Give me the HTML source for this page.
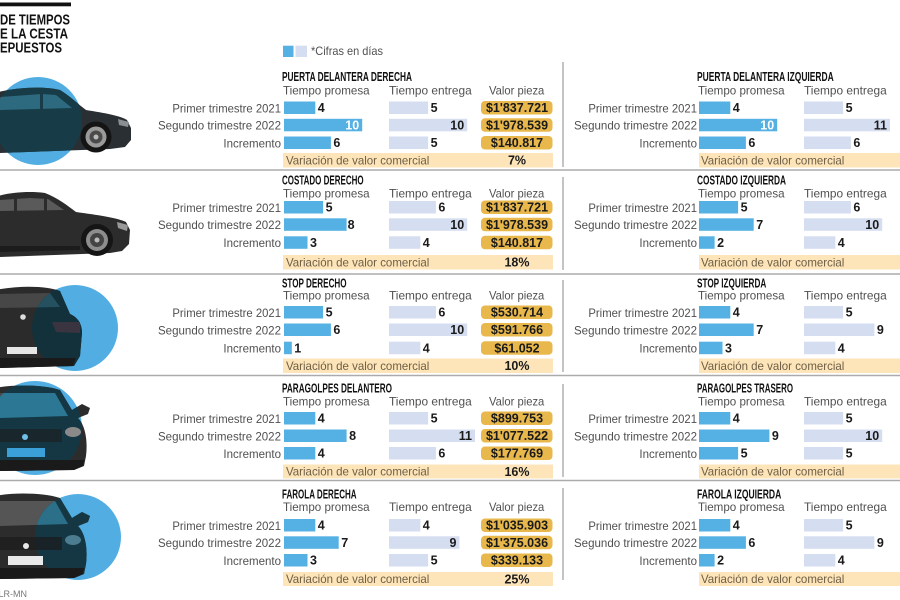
<!DOCTYPE html>
<html>
<head>
<meta charset="utf-8">
<style>
html,body{margin:0;padding:0;background:#fff;}
svg{display:block;}
text{font-family:"Liberation Sans",sans-serif;}
.lbl{font-size:12px;fill:#505050;}
.ttl{font-size:12.5px;font-weight:bold;fill:#111;}
.v{font-size:12.5px;font-weight:bold;fill:#1a1a1a;}
.vw{font-size:12.5px;font-weight:bold;fill:#fff;}
.pz{font-size:12.5px;font-weight:bold;fill:#1a1a1a;text-anchor:middle;}
.st{font-size:12px;fill:#6e5e45;}
.pb{fill:#55b0e3;}
.eb{fill:#d5ddf0;}
.gb{fill:#e8b84d;}
.sb{fill:#fde5b9;}
.end{text-anchor:end;}
</style>
</head>
<body>
<svg width="900" height="600" viewBox="0 0 900 600" xmlns="http://www.w3.org/2000/svg">
<defs>
  <clipPath id="c1" clipPathUnits="userSpaceOnUse"><circle cx="38" cy="121" r="44"/></clipPath>
  <clipPath id="c3" clipPathUnits="userSpaceOnUse"><circle cx="75" cy="328" r="43"/></clipPath>
  <clipPath id="c4" clipPathUnits="userSpaceOnUse"><circle cx="35" cy="428" r="47"/></clipPath>
  <clipPath id="c5" clipPathUnits="userSpaceOnUse"><circle cx="78" cy="429" r="43"/></clipPath>
</defs>
<rect width="900" height="600" fill="#fff"/>

<!-- Header -->
<rect x="0" y="2.5" width="71" height="3.8" fill="#111"/>
<text x="0" y="24.3" textLength="70" lengthAdjust="spacingAndGlyphs" style="font-size:15px;font-weight:bold;fill:#111">DE TIEMPOS</text>
<text x="0" y="38.5" textLength="68" lengthAdjust="spacingAndGlyphs" style="font-size:15px;font-weight:bold;fill:#111">E LA CESTA</text>
<text x="0" y="52.6" textLength="62" lengthAdjust="spacingAndGlyphs" style="font-size:15px;font-weight:bold;fill:#111">EPUESTOS</text>

<!-- Legend -->
<rect x="283" y="45.7" width="10.5" height="11.3" class="pb"/>
<rect x="295.5" y="45.7" width="11.5" height="11.3" class="eb"/>
<text x="311" y="55" class="lbl" textLength="72" lengthAdjust="spacingAndGlyphs">*Cifras en días</text>

<!-- Separators -->
<g stroke="#ababab" stroke-width="1.5">
  <line x1="0" y1="170" x2="900" y2="170"/>
  <line x1="0" y1="274" x2="900" y2="274"/>
  <line x1="0" y1="375.5" x2="900" y2="375.5"/>
  <line x1="0" y1="480.5" x2="900" y2="480.5"/>
</g>
<g stroke="#8a8a8a" stroke-width="1">
  <line x1="563" y1="62" x2="563" y2="167"/>
  <line x1="563" y1="177" x2="563" y2="270"/>
  <line x1="563" y1="280" x2="563" y2="372"/>
  <line x1="563" y1="384" x2="563" y2="477"/>
  <line x1="563" y1="488" x2="563" y2="580"/>
</g>

<!-- ============ CARS ============ -->
<circle cx="38" cy="121" r="44" fill="#52aee2"/>
<g>
  <path d="M -5,93 C 15,87 45,86 60,90 C 70,96 78,104 86,110 C 105,113 121,116 127,120 L 131,128 L 131,140 L 125,147 L 110,149 L 82,150 L 0,153 L -5,153 Z" fill="#2a2f33"/>
  <path d="M 0,97 L 42,94 L 56,95 L 72,108 L 0,110 Z" fill="#3e474e"/>
  <g clip-path="url(#c1)">
    <path d="M -5,93 C 15,87 45,86 60,90 C 70,96 78,104 86,110 C 105,113 121,116 127,120 L 131,128 L 131,140 L 125,147 L 110,149 L 82,150 L 0,153 L -5,153 Z" fill="#173c48"/>
    <path d="M 0,97 L 42,94 L 56,95 L 72,108 L 0,110 Z" fill="#2d6a80"/>
    <rect x="40" y="94" width="3" height="16" fill="#173c48"/>
  </g>
  <path d="M 118,119 L 129,122 L 128,127 L 119,125 Z" fill="#8a8f94"/>
  <circle cx="96" cy="137" r="15.5" fill="#141414"/>
  <circle cx="96" cy="137" r="10.5" fill="#9a9a9a"/>
  <circle cx="96" cy="137" r="6.5" fill="#4a4a4a"/>
  <circle cx="96" cy="137" r="2.5" fill="#bbb"/>
</g>

<g>
  <path d="M -5,197 C 10,192 30,191 45,193 C 58,198 68,206 76,212 C 98,215 118,218 126,222 L 130,230 L 129,244 L 122,251 L 110,253 L 82,254 L 0,257 L -5,257 Z" fill="#2c2c2c"/>
  <path d="M 0,200 L 30,198 L 48,199 L 64,210 L 0,211 Z" fill="#5a5a5a"/>
  <rect x="14" y="198" width="3" height="13" fill="#2c2c2c"/>
  <rect x="44" y="198" width="3" height="13" fill="#2c2c2c"/>
  <path d="M 117,222 L 128,225 L 127,231 L 118,228 Z" fill="#999"/>
  <path d="M 0,246 L 80,246 L 80,250 L 0,252 Z" fill="#1c1c1c"/>
  <circle cx="97" cy="240" r="16" fill="#151515"/>
  <circle cx="97" cy="240" r="11" fill="#8d8d8d"/>
  <circle cx="97" cy="240" r="7" fill="#444"/>
  <circle cx="97" cy="240" r="2.5" fill="#bbb"/>
</g>

<circle cx="75" cy="328" r="43" fill="#52aee2"/>
<g>
  <path d="M -5,290 C 20,285 48,286 60,291 L 70,314 C 79,318 82,325 82,333 L 80,356 L 74,366 L 0,368 L -5,368 Z" fill="#2b2b2b"/>
  <path d="M 0,294 L 50,293 L 60,307 L 0,308 Z" fill="#474747"/>
  <path d="M 52,322 L 80,322 L 80,333 L 56,332 Z" fill="#4a2a30"/>
  <g clip-path="url(#c3)">
    <path d="M -5,290 C 20,285 48,286 60,291 L 70,314 C 79,318 82,325 82,333 L 80,356 L 74,366 L 0,368 L -5,368 Z" fill="#13313b"/>
    <path d="M 0,294 L 50,293 L 60,307 L 0,308 Z" fill="#24505f"/>
    <path d="M 52,322 L 80,322 L 80,333 L 56,332 Z" fill="#3a3440"/>
  </g>
  <circle cx="23" cy="317" r="2.8" fill="#ddd"/>
  <rect x="7" y="347" width="30" height="7" fill="#e6e6e6"/>
  <path d="M 0,358 L 76,358 L 73,366 L 0,368 Z" fill="#1a1a1a"/>
</g>

<circle cx="35" cy="428" r="47" fill="#52aee2"/>
<g>
  <path d="M -5,388 C 15,384 45,385 60,390 L 72,410 L 82,404 L 90,408 L 88,414 L 78,418 C 85,425 88,440 86,456 L 84,466 L 74,470 L 0,471 L -5,471 Z" fill="#2c2c2c"/>
  <path d="M 0,393 L 55,393 L 68,416 L 0,418 Z" fill="#4a4a4a"/>
  <g clip-path="url(#c4)">
    <path d="M -5,388 C 15,384 45,385 60,390 L 72,410 L 82,404 L 90,408 L 88,414 L 78,418 C 85,425 88,440 86,456 L 84,466 L 74,470 L 0,471 L -5,471 Z" fill="#153744"/>
    <path d="M 0,393 L 55,393 L 68,416 L 0,418 Z" fill="#2c7894"/>
  </g>
  <rect x="0" y="429" width="62" height="13" fill="#1b1f22" opacity="0.7"/>
  <ellipse cx="73" cy="432" rx="8" ry="5" fill="#8a8a8a"/>
  <circle cx="25" cy="437" r="3" fill="#6fc0e8"/>
  <rect x="7" y="448" width="38" height="9" fill="#3ca0d8"/>
  <path d="M 0,460 L 84,460 L 83,466 L 74,470 L 0,471 Z" fill="#1a1a1a"/>
</g>

<circle cx="78" cy="537" r="43" fill="#52aee2"/>
<g transform="translate(0,108)">
  <path d="M -5,388 C 15,384 45,385 60,390 L 72,410 L 82,404 L 90,408 L 88,414 L 78,418 C 85,425 88,440 86,456 L 84,466 L 74,470 L 0,471 L -5,471 Z" fill="#2c2c2c"/>
  <path d="M 0,393 L 55,393 L 68,416 L 0,418 Z" fill="#555"/>
  <g clip-path="url(#c5)">
    <path d="M -5,388 C 15,384 45,385 60,390 L 72,410 L 82,404 L 90,408 L 88,414 L 78,418 C 85,425 88,440 86,456 L 84,466 L 74,470 L 0,471 L -5,471 Z" fill="#153744"/>
    <path d="M 0,393 L 55,393 L 68,416 L 0,418 Z" fill="#2c6f88"/>
  </g>
  <rect x="0" y="429" width="62" height="13" fill="#1b1b1b" opacity="0.7"/>
  <ellipse cx="73" cy="432" rx="8" ry="5" fill="#4c7c90"/>
  <circle cx="26" cy="438" r="3" fill="#e8e8e8"/>
  <rect x="8" y="448" width="35" height="9" fill="#eaeaea"/>
  <path d="M 0,460 L 84,460 L 83,466 L 74,470 L 0,471 Z" fill="#1a1a1a"/>
</g>

<text x="27" y="597" class="end" style="font-size:9px;fill:#777">Fuente: LR-MN</text>

<!-- ============ SECTION 1 ============ -->
<g>
  <text x="282" y="81" class="ttl" textLength="130" lengthAdjust="spacingAndGlyphs">PUERTA DELANTERA DERECHA</text>
  <text x="283" y="94.5" class="lbl" textLength="86.6" lengthAdjust="spacingAndGlyphs">Tiempo promesa</text>
  <text x="389" y="94.5" class="lbl" textLength="82.7" lengthAdjust="spacingAndGlyphs">Tiempo entrega</text>
  <text x="489" y="94.5" class="lbl" textLength="55.3" lengthAdjust="spacingAndGlyphs">Valor pieza</text>
  <text x="281" y="112.3" class="lbl end" textLength="108.6" lengthAdjust="spacingAndGlyphs">Primer trimestre 2021</text>
  <text x="281" y="129.6" class="lbl end" textLength="123" lengthAdjust="spacingAndGlyphs">Segundo trimestre 2022</text>
  <text x="281" y="147.3" class="lbl end" textLength="57.6" lengthAdjust="spacingAndGlyphs">Incremento</text>
  <rect x="284" y="101.5" width="31.3" height="12.5" class="pb"/><text x="317.8" y="112.1" class="v">4</text>
  <rect x="284" y="118.8" width="78.2" height="12.5" class="pb"/><text x="359.2" y="129.4" class="vw end">10</text>
  <rect x="284" y="136.5" width="46.9" height="12.5" class="pb"/><text x="333.4" y="147.1" class="v">6</text>
  <rect x="389" y="101.5" width="39.1" height="12.5" class="eb"/><text x="430.6" y="112.1" class="v">5</text>
  <rect x="389" y="118.8" width="78.2" height="12.5" class="eb"/><text x="464.2" y="129.4" class="v end">10</text>
  <rect x="389" y="136.5" width="39.1" height="12.5" class="eb"/><text x="430.6" y="147.1" class="v">5</text>
  <rect x="481" y="101" width="71.5" height="13.5" rx="4" class="gb"/><text x="517" y="112.2" class="pz">$1'837.721</text>
  <rect x="481" y="118.3" width="71.5" height="13.5" rx="4" class="gb"/><text x="517" y="129.5" class="pz">$1'978.539</text>
  <rect x="481" y="136" width="71.5" height="13.5" rx="4" class="gb"/><text x="517" y="147.2" class="pz">$140.817</text>
  <rect x="283" y="153" width="270" height="14.5" class="sb"/>
  <text x="286" y="164.3" class="st" textLength="143.3" lengthAdjust="spacingAndGlyphs">Variación de valor comercial</text>
  <text x="517" y="164.6" class="pz">7%</text>
</g>
<g>
  <text x="697" y="81" class="ttl" textLength="136.7" lengthAdjust="spacingAndGlyphs">PUERTA DELANTERA IZQUIERDA</text>
  <text x="698" y="94.5" class="lbl" textLength="86.6" lengthAdjust="spacingAndGlyphs">Tiempo promesa</text>
  <text x="804" y="94.5" class="lbl" textLength="82.7" lengthAdjust="spacingAndGlyphs">Tiempo entrega</text>
  <text x="697" y="112.3" class="lbl end" textLength="108.6" lengthAdjust="spacingAndGlyphs">Primer trimestre 2021</text>
  <text x="697" y="129.6" class="lbl end" textLength="123" lengthAdjust="spacingAndGlyphs">Segundo trimestre 2022</text>
  <text x="697" y="147.3" class="lbl end" textLength="57.6" lengthAdjust="spacingAndGlyphs">Incremento</text>
  <rect x="699" y="101.5" width="31.3" height="12.5" class="pb"/><text x="732.8" y="112.1" class="v">4</text>
  <rect x="699" y="118.8" width="78.2" height="12.5" class="pb"/><text x="774.2" y="129.4" class="vw end">10</text>
  <rect x="699" y="136.5" width="46.9" height="12.5" class="pb"/><text x="748.4" y="147.1" class="v">6</text>
  <rect x="804" y="101.5" width="39.1" height="12.5" class="eb"/><text x="845.6" y="112.1" class="v">5</text>
  <rect x="804" y="118.8" width="86" height="12.5" class="eb"/><text x="887" y="129.4" class="v end">11</text>
  <rect x="804" y="136.5" width="46.9" height="12.5" class="eb"/><text x="853.4" y="147.1" class="v">6</text>
  <rect x="699" y="153" width="201" height="14.5" class="sb"/>
  <text x="701" y="164.3" class="st" textLength="143.3" lengthAdjust="spacingAndGlyphs">Variación de valor comercial</text>
</g>

<!-- ============ SECTION 2 ============ -->
<g>
  <text x="282" y="184.3" class="ttl" textLength="81.6" lengthAdjust="spacingAndGlyphs">COSTADO DERECHO</text>
  <text x="283" y="197.7" class="lbl" textLength="86.6" lengthAdjust="spacingAndGlyphs">Tiempo promesa</text>
  <text x="389" y="197.7" class="lbl" textLength="82.7" lengthAdjust="spacingAndGlyphs">Tiempo entrega</text>
  <text x="489" y="197.7" class="lbl" textLength="55.3" lengthAdjust="spacingAndGlyphs">Valor pieza</text>
  <text x="281" y="211.8" class="lbl end" textLength="108.6" lengthAdjust="spacingAndGlyphs">Primer trimestre 2021</text>
  <text x="281" y="229.1" class="lbl end" textLength="123" lengthAdjust="spacingAndGlyphs">Segundo trimestre 2022</text>
  <text x="281" y="247.1" class="lbl end" textLength="57.6" lengthAdjust="spacingAndGlyphs">Incremento</text>
  <rect x="284" y="201" width="39.1" height="12.5" class="pb"/><text x="325.6" y="211.6" class="v">5</text>
  <rect x="284" y="218.3" width="62.6" height="12.5" class="pb"/><text x="347.6" y="228.9" class="v">8</text>
  <rect x="284" y="236.3" width="23.5" height="12.5" class="pb"/><text x="310" y="246.9" class="v">3</text>
  <rect x="389" y="201" width="46.9" height="12.5" class="eb"/><text x="438.4" y="211.6" class="v">6</text>
  <rect x="389" y="218.3" width="78.2" height="12.5" class="eb"/><text x="464.2" y="228.9" class="v end">10</text>
  <rect x="389" y="236.3" width="31.3" height="12.5" class="eb"/><text x="422.8" y="246.9" class="v">4</text>
  <rect x="481" y="200.5" width="71.5" height="13.5" rx="4" class="gb"/><text x="517" y="211.7" class="pz">$1'837.721</text>
  <rect x="481" y="217.8" width="71.5" height="13.5" rx="4" class="gb"/><text x="517" y="229" class="pz">$1'978.539</text>
  <rect x="481" y="235.8" width="71.5" height="13.5" rx="4" class="gb"/><text x="517" y="247" class="pz">$140.817</text>
  <rect x="283" y="255" width="270" height="14.5" class="sb"/>
  <text x="286" y="266.3" class="st" textLength="143.3" lengthAdjust="spacingAndGlyphs">Variación de valor comercial</text>
  <text x="517" y="266.6" class="pz">18%</text>
</g>
<g>
  <text x="697" y="184.3" class="ttl" textLength="89" lengthAdjust="spacingAndGlyphs">COSTADO IZQUIERDA</text>
  <text x="698" y="197.7" class="lbl" textLength="86.6" lengthAdjust="spacingAndGlyphs">Tiempo promesa</text>
  <text x="804" y="197.7" class="lbl" textLength="82.7" lengthAdjust="spacingAndGlyphs">Tiempo entrega</text>
  <text x="697" y="211.8" class="lbl end" textLength="108.6" lengthAdjust="spacingAndGlyphs">Primer trimestre 2021</text>
  <text x="697" y="229.1" class="lbl end" textLength="123" lengthAdjust="spacingAndGlyphs">Segundo trimestre 2022</text>
  <text x="697" y="247.1" class="lbl end" textLength="57.6" lengthAdjust="spacingAndGlyphs">Incremento</text>
  <rect x="699" y="201" width="39.1" height="12.5" class="pb"/><text x="740.6" y="211.6" class="v">5</text>
  <rect x="699" y="218.3" width="54.7" height="12.5" class="pb"/><text x="756.2" y="228.9" class="v">7</text>
  <rect x="699" y="236.3" width="15.6" height="12.5" class="pb"/><text x="717.1" y="246.9" class="v">2</text>
  <rect x="804" y="201" width="46.9" height="12.5" class="eb"/><text x="853.4" y="211.6" class="v">6</text>
  <rect x="804" y="218.3" width="78.2" height="12.5" class="eb"/><text x="879.2" y="228.9" class="v end">10</text>
  <rect x="804" y="236.3" width="31.3" height="12.5" class="eb"/><text x="837.8" y="246.9" class="v">4</text>
  <rect x="699" y="255" width="201" height="14.5" class="sb"/>
  <text x="701" y="266.3" class="st" textLength="143.3" lengthAdjust="spacingAndGlyphs">Variación de valor comercial</text>
</g>

<!-- ============ SECTION 3 ============ -->
<g>
  <text x="282" y="287.3" class="ttl" textLength="64.6" lengthAdjust="spacingAndGlyphs">STOP DERECHO</text>
  <text x="283" y="299.4" class="lbl" textLength="86.6" lengthAdjust="spacingAndGlyphs">Tiempo promesa</text>
  <text x="389" y="299.4" class="lbl" textLength="82.7" lengthAdjust="spacingAndGlyphs">Tiempo entrega</text>
  <text x="489" y="299.4" class="lbl" textLength="55.3" lengthAdjust="spacingAndGlyphs">Valor pieza</text>
  <text x="281" y="316.8" class="lbl end" textLength="108.6" lengthAdjust="spacingAndGlyphs">Primer trimestre 2021</text>
  <text x="281" y="334.3" class="lbl end" textLength="123" lengthAdjust="spacingAndGlyphs">Segundo trimestre 2022</text>
  <text x="281" y="352.5" class="lbl end" textLength="57.6" lengthAdjust="spacingAndGlyphs">Incremento</text>
  <rect x="284" y="306" width="39.1" height="12.5" class="pb"/><text x="325.6" y="316.6" class="v">5</text>
  <rect x="284" y="323.5" width="46.9" height="12.5" class="pb"/><text x="333.4" y="334.1" class="v">6</text>
  <rect x="284" y="341.7" width="7.8" height="12.5" class="pb"/><text x="294.3" y="352.3" class="v">1</text>
  <rect x="389" y="306" width="46.9" height="12.5" class="eb"/><text x="438.4" y="316.6" class="v">6</text>
  <rect x="389" y="323.5" width="78.2" height="12.5" class="eb"/><text x="464.2" y="334.1" class="v end">10</text>
  <rect x="389" y="341.7" width="31.3" height="12.5" class="eb"/><text x="422.8" y="352.3" class="v">4</text>
  <rect x="481" y="305.5" width="71.5" height="13.5" rx="4" class="gb"/><text x="517" y="316.7" class="pz">$530.714</text>
  <rect x="481" y="323" width="71.5" height="13.5" rx="4" class="gb"/><text x="517" y="334.2" class="pz">$591.766</text>
  <rect x="481" y="341.2" width="71.5" height="13.5" rx="4" class="gb"/><text x="517" y="352.4" class="pz">$61.052</text>
  <rect x="283" y="358.5" width="270" height="14.5" class="sb"/>
  <text x="286" y="369.8" class="st" textLength="143.3" lengthAdjust="spacingAndGlyphs">Variación de valor comercial</text>
  <text x="517" y="370.1" class="pz">10%</text>
</g>
<g>
  <text x="697" y="287.3" class="ttl" textLength="69.3" lengthAdjust="spacingAndGlyphs">STOP IZQUIERDA</text>
  <text x="698" y="299.4" class="lbl" textLength="86.6" lengthAdjust="spacingAndGlyphs">Tiempo promesa</text>
  <text x="804" y="299.4" class="lbl" textLength="82.7" lengthAdjust="spacingAndGlyphs">Tiempo entrega</text>
  <text x="697" y="316.8" class="lbl end" textLength="108.6" lengthAdjust="spacingAndGlyphs">Primer trimestre 2021</text>
  <text x="697" y="334.3" class="lbl end" textLength="123" lengthAdjust="spacingAndGlyphs">Segundo trimestre 2022</text>
  <text x="697" y="352.5" class="lbl end" textLength="57.6" lengthAdjust="spacingAndGlyphs">Incremento</text>
  <rect x="699" y="306" width="31.3" height="12.5" class="pb"/><text x="732.8" y="316.6" class="v">4</text>
  <rect x="699" y="323.5" width="54.7" height="12.5" class="pb"/><text x="756.2" y="334.1" class="v">7</text>
  <rect x="699" y="341.7" width="23.5" height="12.5" class="pb"/><text x="725" y="352.3" class="v">3</text>
  <rect x="804" y="306" width="39.1" height="12.5" class="eb"/><text x="845.6" y="316.6" class="v">5</text>
  <rect x="804" y="323.5" width="70.4" height="12.5" class="eb"/><text x="876.9" y="334.1" class="v">9</text>
  <rect x="804" y="341.7" width="31.3" height="12.5" class="eb"/><text x="837.8" y="352.3" class="v">4</text>
  <rect x="699" y="358.5" width="201" height="14.5" class="sb"/>
  <text x="701" y="369.8" class="st" textLength="143.3" lengthAdjust="spacingAndGlyphs">Variación de valor comercial</text>
</g>

<!-- ============ SECTION 4 ============ -->
<g>
  <text x="282" y="392.7" class="ttl" textLength="110" lengthAdjust="spacingAndGlyphs">PARAGOLPES DELANTERO</text>
  <text x="283" y="405.4" class="lbl" textLength="86.6" lengthAdjust="spacingAndGlyphs">Tiempo promesa</text>
  <text x="389" y="405.4" class="lbl" textLength="82.7" lengthAdjust="spacingAndGlyphs">Tiempo entrega</text>
  <text x="489" y="405.4" class="lbl" textLength="55.3" lengthAdjust="spacingAndGlyphs">Valor pieza</text>
  <text x="281" y="422.8" class="lbl end" textLength="108.6" lengthAdjust="spacingAndGlyphs">Primer trimestre 2021</text>
  <text x="281" y="440.3" class="lbl end" textLength="123" lengthAdjust="spacingAndGlyphs">Segundo trimestre 2022</text>
  <text x="281" y="457.8" class="lbl end" textLength="57.6" lengthAdjust="spacingAndGlyphs">Incremento</text>
  <rect x="284" y="412" width="31.3" height="12.5" class="pb"/><text x="317.8" y="422.6" class="v">4</text>
  <rect x="284" y="429.5" width="62.6" height="12.5" class="pb"/><text x="349.1" y="440.1" class="v">8</text>
  <rect x="284" y="447" width="31.3" height="12.5" class="pb"/><text x="317.8" y="457.6" class="v">4</text>
  <rect x="389" y="412" width="39.1" height="12.5" class="eb"/><text x="430.6" y="422.6" class="v">5</text>
  <rect x="389" y="429.5" width="86" height="12.5" class="eb"/><text x="472" y="440.1" class="v end">11</text>
  <rect x="389" y="447" width="46.9" height="12.5" class="eb"/><text x="438.4" y="457.6" class="v">6</text>
  <rect x="481" y="411.5" width="71.5" height="13.5" rx="4" class="gb"/><text x="517" y="422.7" class="pz">$899.753</text>
  <rect x="481" y="429" width="71.5" height="13.5" rx="4" class="gb"/><text x="517" y="440.2" class="pz">$1'077.522</text>
  <rect x="481" y="446.5" width="71.5" height="13.5" rx="4" class="gb"/><text x="517" y="457.7" class="pz">$177.769</text>
  <rect x="283" y="464.5" width="270" height="14" class="sb"/>
  <text x="286" y="475.6" class="st" textLength="143.3" lengthAdjust="spacingAndGlyphs">Variación de valor comercial</text>
  <text x="517" y="475.9" class="pz">16%</text>
</g>
<g>
  <text x="697" y="392.7" class="ttl" textLength="96" lengthAdjust="spacingAndGlyphs">PARAGOLPES TRASERO</text>
  <text x="698" y="405.4" class="lbl" textLength="86.6" lengthAdjust="spacingAndGlyphs">Tiempo promesa</text>
  <text x="804" y="405.4" class="lbl" textLength="82.7" lengthAdjust="spacingAndGlyphs">Tiempo entrega</text>
  <text x="697" y="422.8" class="lbl end" textLength="108.6" lengthAdjust="spacingAndGlyphs">Primer trimestre 2021</text>
  <text x="697" y="440.3" class="lbl end" textLength="123" lengthAdjust="spacingAndGlyphs">Segundo trimestre 2022</text>
  <text x="697" y="457.8" class="lbl end" textLength="57.6" lengthAdjust="spacingAndGlyphs">Incremento</text>
  <rect x="699" y="412" width="31.3" height="12.5" class="pb"/><text x="732.8" y="422.6" class="v">4</text>
  <rect x="699" y="429.5" width="70.4" height="12.5" class="pb"/><text x="771.9" y="440.1" class="v">9</text>
  <rect x="699" y="447" width="39.1" height="12.5" class="pb"/><text x="740.6" y="457.6" class="v">5</text>
  <rect x="804" y="412" width="39.1" height="12.5" class="eb"/><text x="845.6" y="422.6" class="v">5</text>
  <rect x="804" y="429.5" width="78.2" height="12.5" class="eb"/><text x="879.2" y="440.1" class="v end">10</text>
  <rect x="804" y="447" width="39.1" height="12.5" class="eb"/><text x="845.6" y="457.6" class="v">5</text>
  <rect x="699" y="464.5" width="201" height="14" class="sb"/>
  <text x="701" y="475.6" class="st" textLength="143.3" lengthAdjust="spacingAndGlyphs">Variación de valor comercial</text>
</g>

<!-- ============ SECTION 5 ============ -->
<g>
  <text x="282" y="498.3" class="ttl" textLength="74.6" lengthAdjust="spacingAndGlyphs">FAROLA DERECHA</text>
  <text x="283" y="511" class="lbl" textLength="86.6" lengthAdjust="spacingAndGlyphs">Tiempo promesa</text>
  <text x="389" y="511" class="lbl" textLength="82.7" lengthAdjust="spacingAndGlyphs">Tiempo entrega</text>
  <text x="489" y="511" class="lbl" textLength="55.3" lengthAdjust="spacingAndGlyphs">Valor pieza</text>
  <text x="281" y="529.8" class="lbl end" textLength="108.6" lengthAdjust="spacingAndGlyphs">Primer trimestre 2021</text>
  <text x="281" y="547.1" class="lbl end" textLength="123" lengthAdjust="spacingAndGlyphs">Segundo trimestre 2022</text>
  <text x="281" y="564.8" class="lbl end" textLength="57.6" lengthAdjust="spacingAndGlyphs">Incremento</text>
  <rect x="284" y="519" width="31.3" height="12.5" class="pb"/><text x="317.8" y="529.6" class="v">4</text>
  <rect x="284" y="536.3" width="54.7" height="12.5" class="pb"/><text x="341.2" y="546.9" class="v">7</text>
  <rect x="284" y="554" width="23.5" height="12.5" class="pb"/><text x="310" y="564.6" class="v">3</text>
  <rect x="389" y="519" width="31.3" height="12.5" class="eb"/><text x="422.8" y="529.6" class="v">4</text>
  <rect x="389" y="536.3" width="70.4" height="12.5" class="eb"/><text x="456.4" y="546.9" class="v end">9</text>
  <rect x="389" y="554" width="39.1" height="12.5" class="eb"/><text x="430.6" y="564.6" class="v">5</text>
  <rect x="481" y="518.5" width="71.5" height="13.5" rx="4" class="gb"/><text x="517" y="529.7" class="pz">$1'035.903</text>
  <rect x="481" y="535.8" width="71.5" height="13.5" rx="4" class="gb"/><text x="517" y="547" class="pz">$1'375.036</text>
  <rect x="481" y="553.5" width="71.5" height="13.5" rx="4" class="gb"/><text x="517" y="564.7" class="pz">$339.133</text>
  <rect x="283" y="572" width="270" height="14" class="sb"/>
  <text x="286" y="583" class="st" textLength="143.3" lengthAdjust="spacingAndGlyphs">Variación de valor comercial</text>
  <text x="517" y="583.3" class="pz">25%</text>
</g>
<g>
  <text x="697" y="498.3" class="ttl" textLength="84.3" lengthAdjust="spacingAndGlyphs">FAROLA IZQUIERDA</text>
  <text x="698" y="511" class="lbl" textLength="86.6" lengthAdjust="spacingAndGlyphs">Tiempo promesa</text>
  <text x="804" y="511" class="lbl" textLength="82.7" lengthAdjust="spacingAndGlyphs">Tiempo entrega</text>
  <text x="697" y="529.8" class="lbl end" textLength="108.6" lengthAdjust="spacingAndGlyphs">Primer trimestre 2021</text>
  <text x="697" y="547.1" class="lbl end" textLength="123" lengthAdjust="spacingAndGlyphs">Segundo trimestre 2022</text>
  <text x="697" y="564.8" class="lbl end" textLength="57.6" lengthAdjust="spacingAndGlyphs">Incremento</text>
  <rect x="699" y="519" width="31.3" height="12.5" class="pb"/><text x="732.8" y="529.6" class="v">4</text>
  <rect x="699" y="536.3" width="46.9" height="12.5" class="pb"/><text x="748.4" y="546.9" class="v">6</text>
  <rect x="699" y="554" width="15.6" height="12.5" class="pb"/><text x="717.1" y="564.6" class="v">2</text>
  <rect x="804" y="519" width="39.1" height="12.5" class="eb"/><text x="845.6" y="529.6" class="v">5</text>
  <rect x="804" y="536.3" width="70.4" height="12.5" class="eb"/><text x="876.9" y="546.9" class="v">9</text>
  <rect x="804" y="554" width="31.3" height="12.5" class="eb"/><text x="837.8" y="564.6" class="v">4</text>
  <rect x="699" y="572" width="201" height="14" class="sb"/>
  <text x="701" y="583" class="st" textLength="143.3" lengthAdjust="spacingAndGlyphs">Variación de valor comercial</text>
</g>
</svg>
</body>
</html>
